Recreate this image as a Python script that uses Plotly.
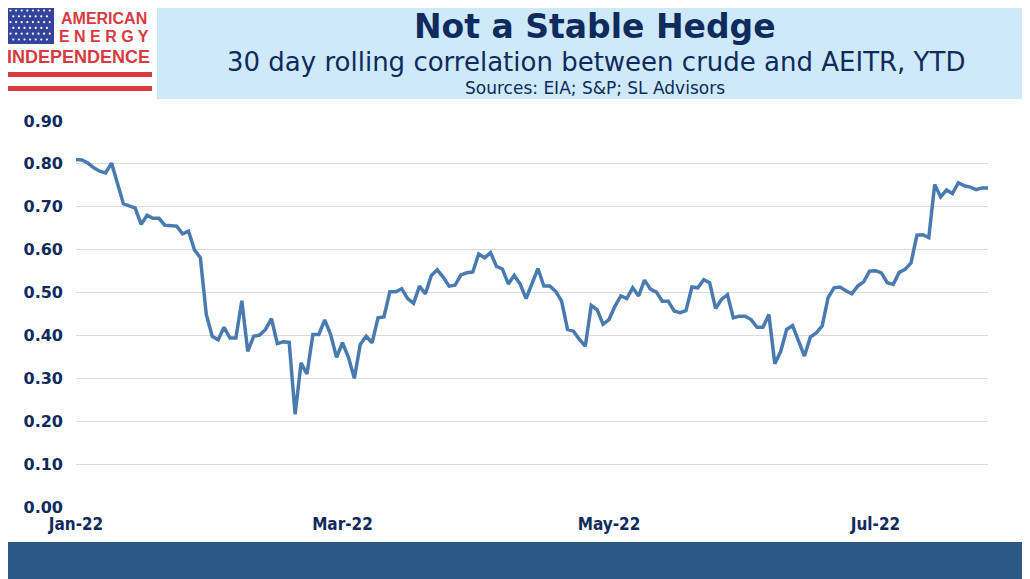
"""Not a Stable Hedge: 30 day rolling correlation between crude and AEITR, YTD."""

import plotly.graph_objects as go

# trading-day index since 3 Jan 2022, and the correlation
trading_day = [
    0, 1, 2, 3, 4, 5, 6, 8, 9, 10, 11, 12, 13, 14, 15, 16, 17, 18, 19, 20,
    21, 22, 23, 24, 25, 26, 27, 28, 29, 30, 31, 32, 33, 34, 35, 36, 37, 38, 39, 40,
    41, 42, 43, 44, 45, 46, 47, 48, 49, 50, 51, 52, 53, 54, 55, 56, 57, 58, 59, 60,
    61, 62, 63, 64, 65, 66, 67, 68, 69, 70, 71, 72, 73, 74, 75, 76, 78, 79, 80, 81,
    82, 83, 84, 85, 86, 87, 88, 89, 90, 91, 92, 93, 94, 95, 96, 97, 98, 99, 100, 101,
    102, 103, 104, 105, 106, 107, 108, 109, 110, 111, 112, 113, 114, 115, 116, 117, 118, 119, 120, 121,
    122, 123, 124, 125, 126, 127, 128, 129, 130, 131, 132, 133, 134, 135, 136, 137, 138, 139, 140, 141,
    142, 143, 144, 145, 146, 147, 148, 149, 150, 151, 152, 153, 154,
]
correlation = [
    0.810, 0.809, 0.802, 0.791, 0.783, 0.779, 0.802, 0.707, 0.702, 0.697,
    0.659, 0.680, 0.673, 0.673, 0.657, 0.657, 0.655, 0.637, 0.643, 0.600,
    0.581, 0.449, 0.398, 0.390, 0.419, 0.394, 0.394, 0.481, 0.363, 0.398,
    0.401, 0.414, 0.439, 0.381, 0.385, 0.384, 0.216, 0.336, 0.310, 0.402,
    0.402, 0.436, 0.402, 0.349, 0.383, 0.349, 0.300, 0.379, 0.398, 0.383,
    0.441, 0.443, 0.502, 0.502, 0.509, 0.486, 0.475, 0.515, 0.497, 0.540,
    0.553, 0.536, 0.515, 0.517, 0.541, 0.546, 0.548, 0.590, 0.581, 0.593,
    0.561, 0.555, 0.520, 0.540, 0.520, 0.486, 0.556, 0.515, 0.515, 0.503,
    0.480, 0.414, 0.410, 0.391, 0.375, 0.470, 0.460, 0.426, 0.437, 0.468,
    0.492, 0.486, 0.511, 0.492, 0.529, 0.508, 0.501, 0.480, 0.480, 0.457,
    0.453, 0.458, 0.513, 0.511, 0.530, 0.523, 0.463, 0.484, 0.495, 0.441,
    0.445, 0.445, 0.437, 0.419, 0.419, 0.449, 0.334, 0.363, 0.414, 0.423,
    0.387, 0.352, 0.396, 0.406, 0.422, 0.488, 0.511, 0.513, 0.504, 0.497,
    0.515, 0.525, 0.550, 0.551, 0.546, 0.523, 0.519, 0.547, 0.554, 0.569,
    0.634, 0.635, 0.628, 0.752, 0.723, 0.739, 0.731, 0.756, 0.749, 0.746,
    0.740, 0.744, 0.744,
]
tick_days = [0, 45, 90, 135]
tick_labels = ["Jan-22", "Mar-22", "May-22", "Jul-22"]

TITLE = "Not a Stable Hedge"
SUBTITLE = "30 day rolling correlation between crude and AEITR, YTD"
SOURCES = "Sources: EIA; S&amp;P; SL Advisors"

NAVY = "#0f2a5c"
RED = "#d83a3f"
LINE = "#4a7bb0"

# page geometry in pixels of the 1030x579 page; the page body adds an 8px
# margin, so the figure itself is drawn 8px smaller and shifted by that much
OFF = 8
PAGE_W, PAGE_H = 1030, 579
W, H = PAGE_W - OFF, PAGE_H - OFF
L, R, T, B = 76, 988, 121, 507


def px(x):
    return (x - L) / (R - L)


def py(y):
    return (B - y) / (B - T)


def rect(x0, y0, x1, y1, color):
    return dict(type="rect", xref="paper", yref="paper",
                x0=px(x0), x1=px(x1), y0=py(y1), y1=py(y0),
                fillcolor=color, line=dict(width=0), layer="below")


shapes = [
    rect(157, 0, PAGE_W + 10, 99, "#cde9fa"),      # header band
    rect(0, 542, PAGE_W + 10, PAGE_H + 10, "#2b5886"),  # footer band
    rect(7, 7, 54, 44, "#34449a"),       # flag field
    rect(7, 72, 152, 77, RED),           # stripes
    rect(7, 86, 152, 91, RED),
]
# stars on the flag
for row in range(6):
    for col in range(8):
        cx = 10.5 + col * 5.6 + (2.8 if row % 2 else 0)
        cy = 10.5 + row * 5.8
        if cx > 52:
            continue
        shapes.append(dict(type="circle", xref="paper", yref="paper",
                           x0=px(cx - 1.1), x1=px(cx + 1.1),
                           y0=py(cy + 1.1), y1=py(cy - 1.1),
                           fillcolor="white", line=dict(width=0)))


def label(text, x, y, size, color, family, bold=False, anchor="center"):
    return dict(text=f"<b>{text}</b>" if bold else text,
                xref="paper", yref="paper", x=px(x), y=py(y),
                xanchor=anchor, yanchor="middle", showarrow=False,
                font=dict(size=size, color=color, family=family))


SANS = "DejaVu Sans, Verdana, sans-serif"
LOGO = "Liberation Sans, Arial, sans-serif"

annotations = [
    label(TITLE, 595, 26, 33, NAVY, SANS, bold=True),
    label(SUBTITLE, 596, 62, 26, NAVY, SANS),
    label(SOURCES, 595, 88, 17, NAVY, SANS),
    label("AMERICAN", 104, 19, 16, RED, LOGO, bold=True),
    label("E N E R G Y", 104, 37, 16, RED, LOGO, bold=True),
    label("INDEPENDENCE", 78, 57, 18, RED, LOGO, bold=True),
]

fig = go.Figure(
    go.Scatter(
        x=trading_day,
        y=correlation,
        mode="lines",
        line=dict(color=LINE, width=3.5),
        hoverinfo="y",
    )
)

fig.update_layout(
    width=W,
    height=H,
    margin=dict(l=L - OFF, r=W - (R - OFF), t=T - OFF, b=H - (B - OFF), pad=0),
    paper_bgcolor="white",
    plot_bgcolor="white",
    showlegend=False,
    shapes=shapes,
    annotations=annotations,
    xaxis=dict(
        range=[0, 154],
        tickmode="array",
        tickvals=tick_days,
        ticktext=[f"<b>{t}</b>" for t in tick_labels],
        showgrid=False,
        zeroline=False,
        showline=False,
        ticks="",
        automargin=False,
        ticklabelstandoff=5,
        tickfont=dict(size=17, color=NAVY,
                      family="DejaVu Sans Condensed, Liberation Sans Narrow, Arial Narrow, sans-serif"),
    ),
    yaxis=dict(
        range=[0, 0.9],
        dtick=0.1,
        tickformat=".2f",
        showgrid=True,
        gridcolor="#dcdcdc",
        gridwidth=1,
        zeroline=False,
        showline=False,
        ticks="",
        automargin=False,
        ticklabelstandoff=12,
        tickfont=dict(size=16, color=NAVY, family=SANS, weight="bold"),
    ),
)

fig.write_html("out.html")
